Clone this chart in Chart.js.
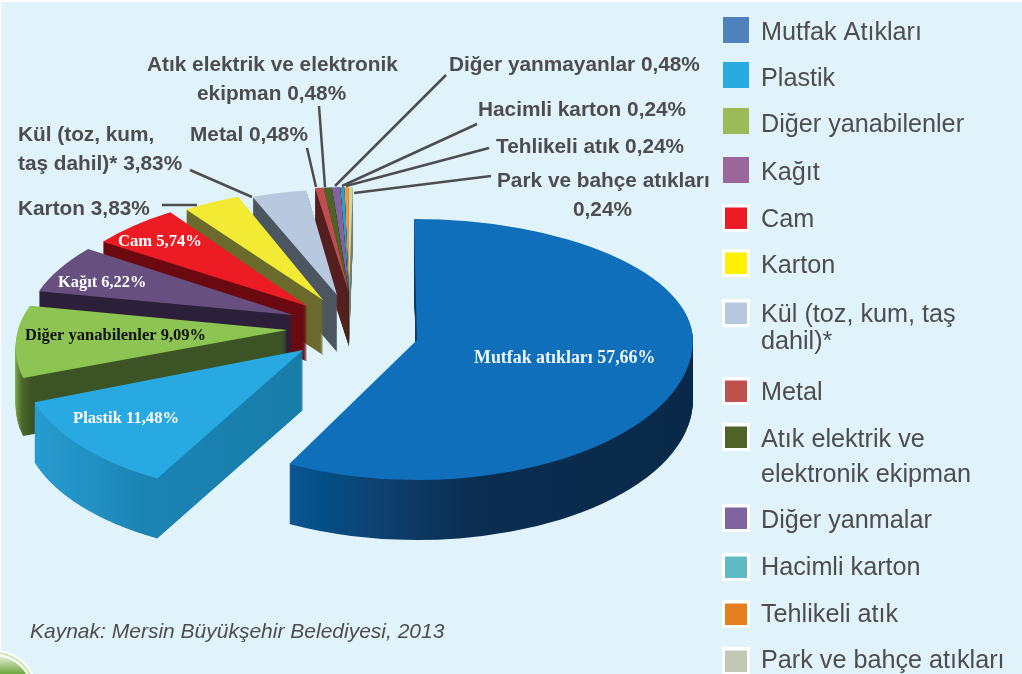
<!DOCTYPE html>
<html lang="tr">
<head>
<meta charset="utf-8">
<style>html,body{margin:0;padding:0;background:#fff;overflow:hidden}canvas{display:block}</style>
<script src="https://cdn.jsdelivr.net/npm/chart.js@4"></script>
</head>
<body>
<canvas id="c" width="1022" height="674"></canvas>
<script>
// --- data ---
const categories = ['Mutfak Atıkları','Plastik','Diğer yanabilenler','Kağıt','Cam','Karton','Kül (toz, kum, taş dahil)*','Metal','Atık elektrik ve elektronik ekipman','Diğer yanmalar','Hacimli karton','Tehlikeli atık','Park ve bahçe atıkları'];
const values = [57.66,11.48,9.09,6.22,5.74,3.83,3.83,0.48,0.48,0.48,0.24,0.24,0.24];

// --- styles ---
const topColors = ['#0f6fba','#28a9e1','#8dc453','#67507f','#ed1c24','#f3ea33','#b8c9df','#bf4f4f','#4f6228','#8064a2','#2e9fc4','#f79646','#c4d8a8'];
const wallStops = [
  [[.268,'#0d5494'],[.33,'#024f85'],[.42,'#0f4272'],[.6,'#0a2d50'],[1,'#0a2949']],
  [[.02,'#289dd2'],[.15,'#2190c3'],[.24,'#1b84b5'],[.5,'#187ca8']],
  [[0,'#8abb50'],[.03,'#4a6a2a'],[.05,'#3c5325'],[1,'#3c5325']],
  [[0,'#2c1f3a'],[1,'#2c1f3a']],
  [[0,'#6a0a10'],[1,'#6a0a10']],
  [[0,'#6b6a2d'],[1,'#6b6a2d']],
  [[0,'#4b5660'],[1,'#4b5660']],
  [[0,'#54201f'],[1,'#54201f']],
  [[0,'#1f2a12'],[1,'#1f2a12']],
  [[0,'#2c2438'],[1,'#2c2438']],
  [[0,'#1b4e5a'],[1,'#1b4e5a']],
  [[0,'#b56a20'],[1,'#b56a20']],
  [[0,'#777b6a'],[1,'#777b6a']]
];
// explosion of each slice away from the pie centre, projected ellipse radii, shear, extrusion
const shiftX = [70,-44,-60,-54,-40,-24,-10,2,2,2,2,2,2];
const shiftY = [12,22,2,-13,-22,-28,-33,-35,-35,-35,-35,-35,-35];
const radX   = [276,281,269,264.6,255.6,244,231,280,280,280,280,280,280];
const radUp  = [121,145,120,118,115,111,105.5,106,106,106,106,106,106];
const radDown= [140,145,133,118,115,111,105.5,106,106,106,106,106,106];
const shearUp   = [.025,-.123,-.27,-.22,-.12,-.047,-.006,-.037,-.037,-.037,-.037,-.037,-.037];
const shearDown = [0,-.123,-.27,-.22,-.12,-.047,-.006,-.037,-.037,-.037,-.037,-.037,-.037];
const depth  = [60,60,58,56,55,55,57,54,54,54,54,54,54];

const legendColors = ['#4f81bd','#29abe2','#9bbb59','#9b6699','#ed1c24','#fff200','#b8c9df','#c0504d','#4f6228','#8064a2','#5fbac3','#e47e1f','#bfc9b6'];
const legendLines = [['Mutfak Atıkları'],['Plastik'],['Diğer yanabilenler'],['Kağıt'],['Cam'],['Karton'],['Kül (toz, kum, taş','dahil)*'],['Metal'],['Atık elektrik ve','elektronik ekipman'],['Diğer yanmalar'],['Hacimli karton'],['Tehlikeli atık'],['Park ve bahçe atıkları']];
const legendTop = [17,62,108,157,204,249,299,377,423,504,553,600,647];
const legendBase = [[40],[86],[132],[180],[227],[273],[322,349],[400],[447,482],[528],[575],[622],[668]];
const legendFramed = [false,false,false,false,true,true,true,true,true,true,true,true,true];

const calloutTexts = ['Atık elektrik ve elektronik','ekipman 0,48%','Diğer yanmayanlar 0,48%','Hacimli karton 0,24%','Tehlikeli atık 0,24%','Park ve bahçe atıkları','0,24%','Metal 0,48%','Kül (toz, kum,','taş dahil)* 3,83%','Karton 3,83%'];
const calloutX = [147,197,449,478,496,497,573,190,18,18,18];
const calloutY = [71,100,71,116,153,187,216,141,141,170,215];
const leaders = [[190,170,252,197],[162,205,197,205],[307,148,316,187],[319,106,325,187],[446,75,335,186],[477,124,342,186],[489,148,346,186],[491,176,354,193]];

const sliceLabels = ['Mutfak atıkları 57,66%','Plastik 11,48%','Diğer yanabilenler 9,09%','Kağıt 6,22%','Cam 5,74%'];
const sliceLabelX = [474,73,25,58,118];
const sliceLabelY = [363,423,340,287,246];
const sliceLabelSize = [17.9,16.6,16.5,16.4,16.6];
const sliceLabelColor = ['#eef6fb','#fff','#111','#fff','#fff'];

const sourceText = 'Kaynak: Mersin Büyükşehir Belediyesi, 2013';
const W = 1022, H = 674, textGrey = '#4d4d4f';

function paintArc(ctx, arc, i, fill, d){
  const ax = arc.x + shiftX[i], ay = arc.y + shiftY[i] + d;
  const halves = [[radUp[i], shearUp[i], 0, ay + .5],[radDown[i], shearDown[i], ay - .5, H + 100]];
  const orig = arc.options;
  if (fill) arc.options = Object.assign({}, orig, {backgroundColor: fill});
  for (const [ry, sh, y0, y1] of halves){
    ctx.save();
    ctx.beginPath(); ctx.rect(0, y0, W, y1 - y0); ctx.clip();
    ctx.transform(radX[i]/100, 0, sh*ry/100, ry/100, ax, ay);
    ctx.translate(-arc.x, -arc.y);
    arc.draw(ctx);
    ctx.restore();
  }
  arc.options = orig;
}

const piePlugin = {
  id: 'pie3d',
  beforeDraw(chart){
    const ctx = chart.ctx;
    ctx.save();
    ctx.fillStyle = '#fff'; ctx.fillRect(0,0,W,H);
    ctx.fillStyle = '#e0f3fb'; ctx.fillRect(1,2,W-1,H-2);
    // corner badge
    ctx.fillStyle = '#fff'; ctx.beginPath(); ctx.arc(-5,692,42,0,Math.PI*2); ctx.fill();
    ctx.fillStyle = '#cfe6b4'; ctx.beginPath(); ctx.arc(-5,692,40,0,Math.PI*2); ctx.fill();
    ctx.fillStyle = '#fff'; ctx.beginPath(); ctx.arc(-5,692,38,0,Math.PI*2); ctx.fill();
    const g = ctx.createLinearGradient(0,656,0,674);
    g.addColorStop(0,'#e6f1d6'); g.addColorStop(1,'#6ea63f');
    ctx.fillStyle = g; ctx.beginPath(); ctx.arc(-5,692,36,0,Math.PI*2); ctx.fill();
    ctx.restore();
  },
  beforeDatasetsDraw(chart){
    const ctx = chart.ctx;
    const arcs = chart.getDatasetMeta(0).data;
    for (let i = arcs.length - 1; i >= 0; i--){
      const arc = arcs[i];
      const grad = ctx.createLinearGradient(arc.x - 100, 0, arc.x + 100, 0);
      wallStops[i].forEach(s => grad.addColorStop(s[0], s[1]));
      for (let d = depth[i]; d >= 1; d--) paintArc(ctx, arc, i, grad, d);
      paintArc(ctx, arc, i, null, 0);
    }
    return false;
  },
  afterDraw(chart){
    const ctx = chart.ctx;
    ctx.save();
    ctx.textAlign = 'left'; ctx.textBaseline = 'alphabetic';
    // leaders
    ctx.strokeStyle = textGrey; ctx.lineWidth = 2.5;
    leaders.forEach(l => { ctx.beginPath(); ctx.moveTo(l[0],l[1]); ctx.lineTo(l[2],l[3]); ctx.stroke(); });
    // callouts
    ctx.fillStyle = textGrey; ctx.font = 'bold 20.8px "Liberation Sans"';
    calloutTexts.forEach((t,i) => ctx.fillText(t, calloutX[i], calloutY[i]));
    // labels on slices
    sliceLabels.forEach((t,i) => {
      ctx.font = 'bold ' + sliceLabelSize[i] + 'px "Liberation Serif"';
      ctx.fillStyle = sliceLabelColor[i]; ctx.fillText(t, sliceLabelX[i], sliceLabelY[i]);
    });
    // legend
    categories.forEach((_,i) => {
      const y = legendTop[i];
      if (legendFramed[i]){
        ctx.fillStyle = '#fff'; ctx.fillRect(722,y,28,28);
        ctx.fillStyle = legendColors[i]; ctx.fillRect(725,y+3.5,22,21.5);
      } else {
        ctx.fillStyle = legendColors[i]; ctx.fillRect(723,y,26,26);
      }
      ctx.fillStyle = textGrey; ctx.font = '25.2px "Liberation Sans"';
      legendLines[i].forEach((t,j) => ctx.fillText(t, 761, legendBase[i][j]));
    });
    // source
    ctx.fillStyle = textGrey; ctx.font = 'italic 21px "Liberation Sans"';
    ctx.fillText(sourceText, 30, 638);
    ctx.restore();
  }
};

new Chart(document.getElementById('c'), {
  type: 'pie',
  data: { labels: categories, datasets: [{ data: values, backgroundColor: topColors, borderWidth: 0 }] },
  options: {
    responsive: false, animation: false, events: [],
    radius: 100,
    layout: { padding: { left: 0, top: 0, right: 328, bottom: 18 } },
    plugins: { legend: { display: false }, tooltip: { enabled: false }, title: { display: false } }
  },
  plugins: [piePlugin]
});
</script>
</body>
</html>
